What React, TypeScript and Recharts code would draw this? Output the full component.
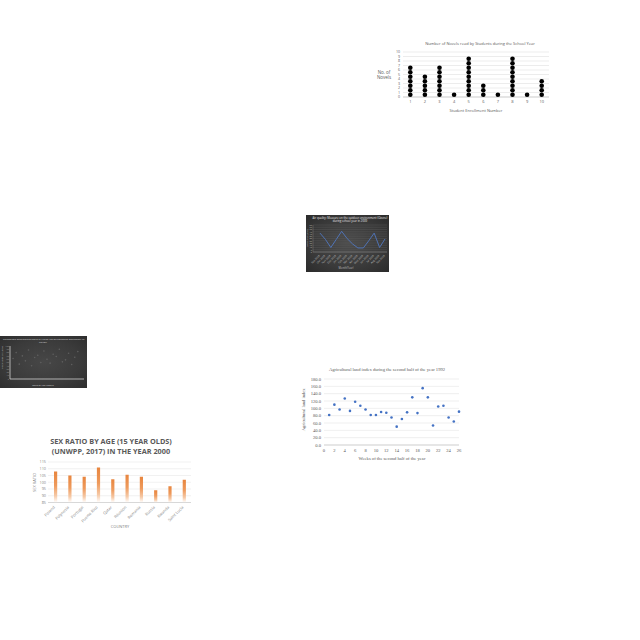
import React from 'react';
import { ScatterChart, Scatter, XAxis, YAxis, CartesianGrid, BarChart, Bar, LineChart, Line } from 'recharts';

// ---- Chart 1: novels dot plot ----
const novelStudents = [1, 2, 3, 4, 5, 6, 7, 8, 9, 10];
const novelCounts = [7, 5, 7, 1, 9, 3, 1, 9, 1, 4];
const novelTicksY = [0, 1, 2, 3, 4, 5, 6, 7, 8, 9, 10];

// ---- Chart 2: dark line chart ----
const airMonths = ['Sep 2008', 'Oct 2008', 'Nov 2008', 'Dec 2008', 'Jan 2009', 'Feb 2009', 'Mar 2009', 'Apr 2009', 'May 2009', 'Jun 2009', 'Jul 2009', 'Aug 2009', 'Sep 2009'];
const airValues = [42, 28, 10, 28, 46, 30, 18, 9, 9, 25, 42, 10, 29];
const airTicksY = [0, 5, 10, 15, 20, 25, 30, 35, 40, 45, 50, 55, 60];

// ---- Chart 3: dark scatter ----
const occDays = [1, 2, 3, 4, 5, 6, 7, 8, 9, 10, 11, 12, 13, 14, 15, 16, 17, 18, 19, 20, 21, 22];
const occPercent = [62, 80, 45, 70, 55, 88, 40, 65, 72, 50, 85, 60, 48, 75, 68, 90, 52, 58, 78, 44, 66, 83];
const occTicksY = [0, 10, 20, 30, 40, 50, 60, 70, 80, 90, 100];

// ---- Chart 4: sex ratio bars ----
const countries = ['Poland', 'Polynesia', 'Portugal', 'Puerto Rico', 'Qatar', 'Réunion', 'Romania', 'Russia', 'Rwanda', 'Saint Lucia'];
const sexRatios = [107.9, 105, 104, 111, 102.3, 105.5, 104, 94, 97, 101.8];
const sexTicks = [85, 90, 95, 100, 105, 110, 115];

// ---- Chart 5: agricultural land index ----
const weeks = [1, 2, 3, 4, 5, 6, 7, 8, 9, 10, 11, 12, 13, 14, 15, 16, 17, 18, 19, 20, 21, 22, 23, 24, 25, 26];
const landIndex = [82, 110, 97, 127, 93, 118, 107, 97, 82, 82, 90, 88, 75, 50, 71, 89, 130, 87, 155, 130, 53, 105, 107, 75, 64, 91];
const weekTicks = [0, 2, 4, 6, 8, 10, 12, 14, 16, 18, 20, 22, 24, 26];
const landTicks = [0, 20, 40, 60, 80, 100, 120, 140, 160, 180];

const novelDots = novelStudents.flatMap((s, i) =>
  Array.from({ length: novelCounts[i] }, (_, k) => ({ x: s, y: k + 0.5 }))
);
const airData = airMonths.map((m, i) => ({ month: m, v: airValues[i] }));
const occData = occDays.map((d, i) => ({ x: d, y: occPercent[i] }));
const sexData = countries.map((c, i) => ({ country: c, ratio: sexRatios[i] }));
const landData = weeks.map((w, i) => ({ x: w, y: landIndex[i] }));

const SANS = 'Open Sans, Liberation Sans, sans-serif';
const SERIF = 'Liberation Serif, serif';

const abs = (left: number, top: number, extra: any = {}) => ({ position: 'absolute' as const, left, top, ...extra });

const Txt = ({ x, y, w, size, color, text, family = SANS, weight = 400, rotate = false }: any) => (
  <div
    style={abs(x - w / 2, y - size * 0.6, {
      width: w,
      textAlign: 'center',
      fontSize: size,
      lineHeight: `${size * 1.2}px`,
      color,
      fontFamily: family,
      fontWeight: weight,
      whiteSpace: 'nowrap',
      transform: rotate ? 'rotate(-90deg)' : undefined,
      transformOrigin: 'center center',
    })}
  >
    {text}
  </div>
);

const RotTick = (props: any) => {
  const { x, y, payload, size, fill, dy } = props;
  return (
    <g transform={`translate(${x},${y + dy})`}>
      <text x={0} y={0} textAnchor="end" transform="rotate(-45)" fontSize={size} fill={fill} fontFamily={SANS}>
        {payload.value}
      </text>
    </g>
  );
};

export default function App() {
  return (
    <div style={abs(0, 0, { width: 640, height: 640, background: '#fff', overflow: 'hidden', fontFamily: SANS })}>
      {/* Chart 1 */}
      <Txt x={480} y={44} w={160} size={4} color="#595959" text="Number of Novels read by Students during the School Year" />
      <div style={abs(370, 40)}>
        <ScatterChart width={185} height={80} margin={{ top: 12, right: 6, bottom: 13, left: 0 }}>
          <CartesianGrid vertical={false} stroke="#d9d9d9" strokeWidth={0.5} />
          <XAxis type="number" dataKey="x" domain={[0.5, 10.5]} ticks={novelStudents} interval={0} height={10} tickSize={0} tickMargin={3}
            tick={{ fontSize: 4, fill: '#595959', fontFamily: SANS }} axisLine={{ stroke: '#bfbfbf', strokeWidth: 0.6 }} allowDataOverflow />
          <YAxis type="number" dataKey="y" domain={[0, 10]} ticks={novelTicksY} interval={0} width={33} tickSize={0} tickMargin={3}
            tick={{ fontSize: 3.6, fill: '#595959', fontFamily: SANS }} axisLine={false} />
          <Scatter data={novelDots} isAnimationActive={false}
            shape={(p: any) => <circle cx={p.cx} cy={p.cy} r={2.3} fill="#000" />} />
        </ScatterChart>
      </div>
      <Txt x={384} y={73} w={30} size={4.5} color="#595959" text="No. of" />
      <Txt x={384} y={78} w={30} size={4.5} color="#595959" text="Novels" />
      <Txt x={476} y={111} w={80} size={4} color="#595959" text="Student Enrollment Number" />

      {/* Chart 2 */}
      <div style={abs(306, 215, { width: 83, height: 57, background: 'radial-gradient(ellipse at center, #4d4d4d 0%, #3a3a3a 60%, #2b2b2b 100%)' })}>
        <LineChart width={83} height={57} data={airData} margin={{ top: 10, right: 2, bottom: 8, left: 1 }}>
          <CartesianGrid vertical={false} stroke="#5c5c5c" strokeWidth={0.4} />
          <XAxis dataKey="month" interval={0} height={12} tickSize={0} padding={{ left: 7, right: 2 }}
            tick={<RotTick size={2.6} fill="#bdbdbd" dy={2} />} axisLine={{ stroke: '#8c8c8c', strokeWidth: 0.5 }} />
          <YAxis type="number" domain={[0, 60]} ticks={airTicksY} interval={0} width={6} tickSize={0} tickMargin={1}
            tick={{ fontSize: 2.2, fill: '#bdbdbd', fontFamily: SANS }} axisLine={{ stroke: '#8c8c8c', strokeWidth: 0.4 }} />
          <Line type="linear" dataKey="v" stroke="#5077c0" strokeWidth={0.9} dot={false} isAnimationActive={false} />
        </LineChart>
      </div>
      <Txt x={350} y={218.5} w={80} size={2.8} color="#e8e8e8" text="Air quality: Measure on the outdoor environment (Ozone)" />
      <Txt x={350} y={222} w={80} size={2.8} color="#e8e8e8" text="during school year in 2009" />
      <Txt x={308} y={238} w={30} size={2.2} color="#bdbdbd" text="Ozone level (ppb)" rotate />
      <Txt x={346} y={269} w={30} size={2.6} color="#bdbdbd" text="Month(Year)" />

      {/* Chart 3 */}
      <div style={abs(0, 336, { width: 87, height: 52, background: 'radial-gradient(ellipse at center, #474747 0%, #3b3b3b 60%, #2e2e2e 100%)' })}>
        <ScatterChart width={87} height={52} margin={{ top: 10, right: 3, bottom: 5, left: 0 }}>
          <XAxis type="number" dataKey="x" domain={[0, 24]} height={4} tick={false} tickLine={false}
            axisLine={{ stroke: '#d0d0d0', strokeWidth: 0.8 }} />
          <YAxis type="number" dataKey="y" domain={[0, 100]} ticks={occTicksY} interval={0} width={10} tickSize={0} tickMargin={1}
            tick={{ fontSize: 2.2, fill: '#9a9a9a', fontFamily: SANS }} axisLine={{ stroke: '#d0d0d0', strokeWidth: 0.8 }} />
          <Scatter data={occData} isAnimationActive={false}
            shape={(p: any) => <circle cx={p.cx} cy={p.cy} r={0.8} fill="#5f5f5f" />} />
        </ScatterChart>
      </div>
      <Txt x={43} y={339} w={80} size={2.5} color="#dcdcdc" text="Percentage Occupied on Days in Which the Surrounding Occupancy of" />
      <Txt x={43} y={342} w={40} size={2.5} color="#dcdcdc" text="Library" />
      <Txt x={3} y={357} w={30} size={2.3} color="#bdbdbd" text="Percentage Occupied" rotate />
      <Txt x={43} y={385} w={30} size={2.5} color="#d8d8d8" text="Days of the Month" />

      {/* Chart 4 */}
      <Txt x={111} y={441.5} w={180} size={7.3} weight={700} color="#595959" text="SEX RATIO BY AGE (15 YEAR OLDS)" />
      <Txt x={111} y={451} w={180} size={7.3} weight={700} color="#595959" text="(UNWPP, 2017) IN THE YEAR 2000" />
      <div style={abs(20, 430)}>
        <BarChart width={180} height={110} data={sexData} margin={{ top: 32, right: 9, bottom: 7.5, left: 8 }}>
          <defs>
            <linearGradient id="sexGrad" x1="0" y1="0" x2="0" y2="1">
              <stop offset="0%" stopColor="#E8853E" />
              <stop offset="45%" stopColor="#EE9A5C" />
              <stop offset="78%" stopColor="#F6C9A6" />
              <stop offset="100%" stopColor="#FFFFFF" />
            </linearGradient>
          </defs>
          <CartesianGrid vertical={false} stroke="#e3e3e3" strokeWidth={0.5} />
          <XAxis dataKey="country" interval={0} height={30} tickSize={0}
            tick={<RotTick size={4} fill="#7f7f7f" dy={3} />} axisLine={{ stroke: '#c8c8c8', strokeWidth: 0.6 }} />
          <YAxis type="number" domain={[85, 115]} ticks={sexTicks} interval={0} width={20} tickSize={0} tickMargin={2}
            tick={{ fontSize: 3.8, fill: '#7f7f7f', fontFamily: SANS }} axisLine={false} allowDataOverflow />
          <Bar dataKey="ratio" fill="url(#sexGrad)" barSize={3.2} isAnimationActive={false} />
        </BarChart>
      </div>
      <Txt x={35} y={482} w={40} size={4} color="#7f7f7f" text="SEX RATIO" rotate />
      <Txt x={120} y={527} w={40} size={4} color="#7f7f7f" text="COUNTRY" />

      {/* Chart 5 */}
      <Txt x={387} y={370} w={170} size={4.6} color="#595959" family={SERIF} text="Agricultural land index during the second half of the year 1992" />
      <div style={abs(300, 365)}>
        <ScatterChart width={168} height={100} margin={{ top: 14, right: 9, bottom: 8, left: 0 }}>
          <CartesianGrid vertical={false} stroke="#dedede" strokeWidth={0.5} />
          <XAxis type="number" dataKey="x" domain={[0, 26]} ticks={weekTicks} interval={0} height={12} tickSize={0} tickMargin={4}
            tick={{ fontSize: 4.6, fill: '#595959', fontFamily: SERIF }} axisLine={{ stroke: '#bfbfbf', strokeWidth: 0.6 }} />
          <YAxis type="number" dataKey="y" domain={[0, 180]} ticks={landTicks} interval={0} width={24} tickSize={0} tickMargin={3}
            tickFormatter={(v: number) => v.toFixed(1)}
            tick={{ fontSize: 4.6, fill: '#595959', fontFamily: SERIF }} axisLine={false} />
          <Scatter data={landData} isAnimationActive={false}
            shape={(p: any) => <circle cx={p.cx} cy={p.cy} r={1.3} fill="#4472C4" />} />
        </ScatterChart>
      </div>
      <Txt x={304} y={410} w={60} size={4.6} color="#595959" family={SERIF} text="Agricultural land index" rotate />
      <Txt x={392} y={459} w={120} size={4.6} color="#595959" family={SERIF} text="Weeks of the second half of the year" />
    </div>
  );
}
